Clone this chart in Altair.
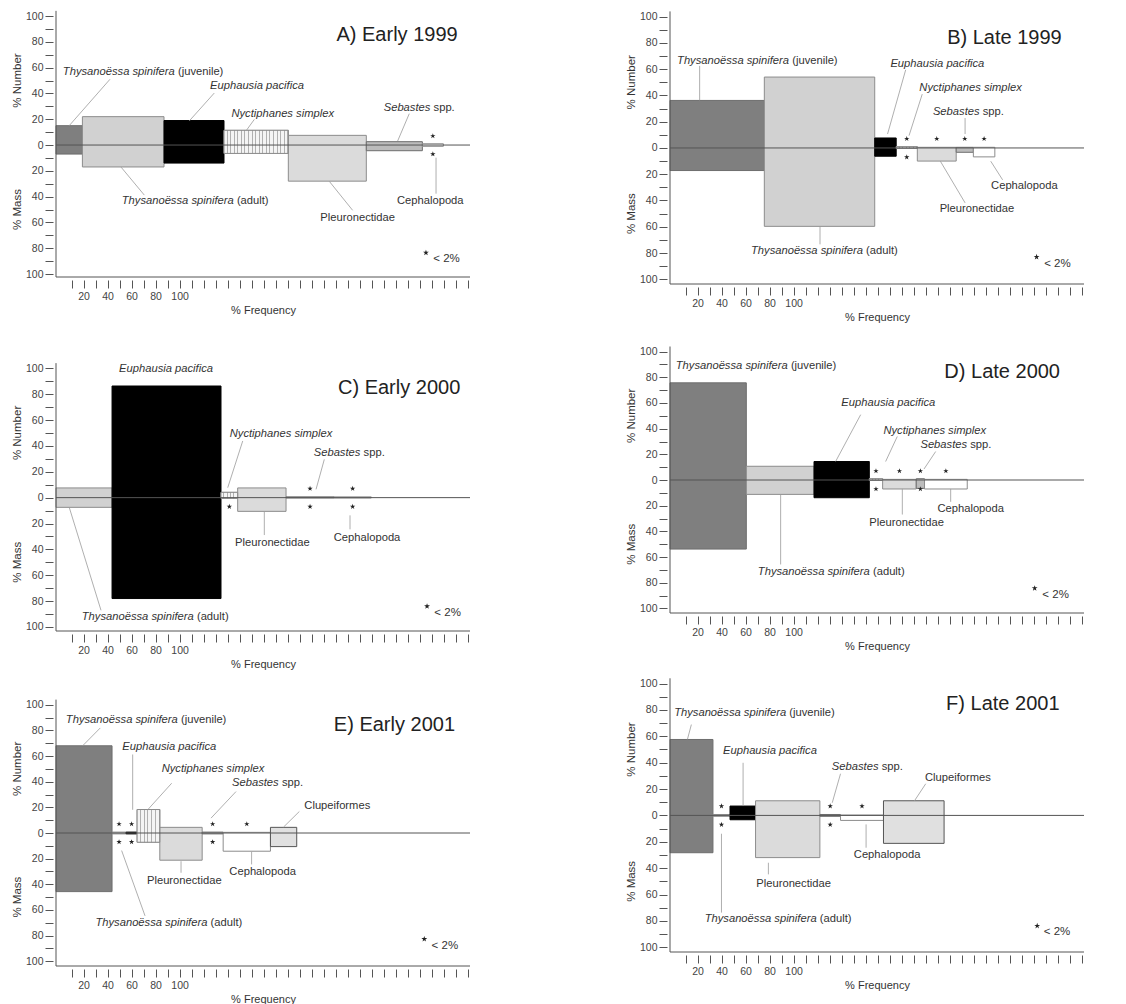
import altair as alt
import numpy as np
import pandas as pd

# ---------------- taxa & styles ----------------
TJ = "Thysanoëssa spinifera (juvenile)"
TA = "Thysanoëssa spinifera (adult)"
EP = "Euphausia pacifica"
NS = "Nyctiphanes simplex"
PL = "Pleuronectidae"
SE = "Sebastes spp."
CE = "Cephalopoda"
CL = "Clupeiformes"

TAXA = [TJ, TA, EP, NS, PL, SE, CE, CL]
FILLS = ["#7f7f7f", "#d1d1d1", "#000000", "#f2f2f2", "#dbdbdb", "#bcbcbc", "#ffffff", "#e0e0e0"]
STROKES = ["#6e6e6e", "#8c8c8c", "#000000", "#8c8c8c", "#8c8c8c", "#6e6e6e", "#8c8c8c", "#555555"]
STAR = ("M0,-1L0.2245,-0.309L0.9511,-0.309L0.3633,0.118L0.5878,0.809L0,0.382"
        "L-0.5878,0.809L-0.3633,0.118L-0.9511,-0.309L-0.2245,-0.309Z")

XMAX = 345
X_TICKS = list(range(10, 341, 10))
Y_TICKS = list(range(-100, 101, 10))

# ---------------- data ----------------
# A) Early 1999
taxa_A = [TJ, TA, EP, NS, PL, SE, CE]
freq_A = [22.0, 68.0, 50.0, 53.6, 65.0, 46.7, 17.5]
num_A = [15.0, 22.0, 19.0, 11.4, 7.5, 2.6, 1.0]
mass_A = [7.0, 17.0, 14.0, 6.5, 28.0, 4.4, 1.0]
lt2num_A = [0, 0, 0, 0, 0, 0, 1]
lt2mass_A = [0, 0, 0, 0, 0, 0, 1]

# B) Late 1999
taxa_B = [TJ, TA, EP, NS, PL, SE, CE]
freq_B = [78.6, 92.0, 17.9, 17.6, 32.4, 14.3, 17.9]
num_B = [36.2, 54.0, 7.6, 1.0, 0.5, 0.5, 0.5]
mass_B = [17.2, 59.7, 6.3, 0.3, 10.0, 3.3, 6.8]
lt2num_B = [0, 0, 0, 1, 1, 1, 1]
lt2mass_B = [0, 0, 0, 1, 0, 0, 0]

# C) Early 2000
taxa_C = [TA, EP, NS, PL, SE, CE]
freq_C = [46.7, 90.8, 13.9, 40.3, 40.0, 31.0]
num_C = [7.5, 86.3, 4.1, 7.5, 0.6, 0.6]
mass_C = [7.5, 78.0, 0.5, 10.6, 0.3, 0.3]
lt2num_C = [0, 0, 0, 0, 1, 1]
lt2mass_C = [0, 0, 1, 0, 1, 1]

# D) Late 2000
taxa_D = [TJ, TA, EP, NS, PL, SE, CE]
freq_D = [63.6, 56.4, 46.1, 11.1, 28.0, 6.9, 35.6]
num_D = [75.7, 10.7, 14.4, 1.0, 0.5, 1.0, 0.5]
mass_D = [53.8, 11.2, 13.8, 0.3, 7.0, 6.5, 7.0]
lt2num_D = [0, 0, 0, 1, 1, 1, 1]
lt2mass_D = [0, 0, 0, 1, 0, 1, 0]

# E) Early 2001
taxa_E = [TJ, TA, EP, NS, PL, SE, CE, CL]
freq_E = [46.7, 11.7, 9.2, 18.9, 35.3, 17.5, 39.4, 21.9]
num_E = [68.0, 0.7, 0.7, 18.3, 4.4, 0.7, 0.5, 4.4]
mass_E = [45.7, 0.7, 0.7, 7.2, 21.2, 0.7, 14.2, 10.6]
lt2num_E = [0, 1, 1, 0, 0, 1, 1, 0]
lt2mass_E = [0, 1, 1, 0, 0, 1, 0, 0]

# F) Late 2001
taxa_F = [TJ, TA, EP, PL, SE, CE, CL]
freq_F = [35.8, 14.2, 21.3, 53.6, 17.2, 35.8, 50.5]
num_F = [57.6, 0.7, 7.1, 11.1, 0.7, 0.3, 11.1]
mass_F = [28.3, 0.7, 3.3, 32.0, 0.7, 3.8, 21.2]
lt2num_F = [0, 1, 0, 0, 1, 1, 0]
lt2mass_F = [0, 1, 0, 0, 1, 0, 0]

DATA = {
    "A": (taxa_A, freq_A, num_A, mass_A, lt2num_A, lt2mass_A),
    "B": (taxa_B, freq_B, num_B, mass_B, lt2num_B, lt2mass_B),
    "C": (taxa_C, freq_C, num_C, mass_C, lt2num_C, lt2mass_C),
    "D": (taxa_D, freq_D, num_D, mass_D, lt2num_D, lt2mass_D),
    "E": (taxa_E, freq_E, num_E, mass_E, lt2num_E, lt2mass_E),
    "F": (taxa_F, freq_F, num_F, mass_F, lt2num_F, lt2mass_F),
}

# ---------------- annotations (positions in data units) ----------------
# labels: (italic part, normal part, x, y)
ANN = {
    "A": dict(
        title=("A) Early 1999", 334.7, 85.0), legend=(308.3, -83.5, 314.4, -88.6),
        labels=[("Thysanoëssa spinifera", "(juvenile)", 100.3, 56.6),
                ("Euphausia pacifica", "", 167.5, 45.7),
                ("Nyctiphanes simplex", "", 188.9, 24.3),
                ("Sebastes", "spp.", 313.3, 28.9),
                ("Thysanoëssa spinifera", "(adult)", 149.4, -43.4),
                ("", "Pleuronectidae", 251.4, -56.3),
                ("", "Cephalopoda", 311.9, -43.4)],
        leaders=[(45, 51, 11, 15), (131.9, 40.3, 111, 18.6), (165.3, 19.9, 158.3, 10.9),
                 (294.4, 24.3, 284.7, 3.1), (73.6, -38.8, 54.2, -17.1),
                 (247.2, -50.6, 227.8, -28.2), (316.7, -37.7, 316.7, -9.8)]),
    "B": dict(
        title=("B) Late 1999", 326.4, 84.0), legend=(305.5, -83.0, 311.8, -88.0),
        labels=[("Thysanoëssa spinifera", "(juvenile)", 100.5, 66.3),
                ("Euphausia pacifica", "", 222.8, 63.8),
                ("Nyctiphanes simplex", "", 250.5, 45.6),
                ("Sebastes", "spp.", 259.3, 27.6),
                ("Thysanoëssa spinifera", "(adult)", 162.1, -78.5),
                ("", "Pleuronectidae", 255.8, -46.8),
                ("", "Cephalopoda", 295.3, -28.6)],
        leaders=[(24.7, 62.5, 24.7, 36.2), (196.4, 59.5, 181.3, 10.6), (210.2, 41, 199.2, 9.4),
                 (245.9, 22.8, 245.9, 10.6), (125, -73.4, 125, -59.7),
                 (245.9, -41.8, 225.3, -10.1), (277.2, -24.3, 267.3, -10.1)]),
    "C": dict(
        title=("C) Early 2000", 336.9, 84.5), legend=(309.2, -84.0, 315.3, -89.0),
        labels=[("Euphausia pacifica", "", 91.7, 99.2),
                ("Nyctiphanes simplex", "", 187.5, 49.5),
                ("Sebastes", "spp.", 255.0, 34.8),
                ("Thysanoëssa spinifera", "(adult)", 116.1, -92.3),
                ("", "Pleuronectidae", 180.3, -34.8),
                ("", "Cephalopoda", 259.2, -31.4)],
        leaders=[(155.6, 43.8, 143.1, 7.7), (223.6, 29.6, 216.7, 6.4), (37.5, -87.1, 11.1, -7.7),
                 (173.6, -28.9, 173.6, -10.6), (245, -24.5, 245, -13.7)]),
    "D": dict(
        title=("D) Late 2000", 325.0, 84.3), legend=(303.9, -84.3, 310.3, -89.6),
        labels=[("Thysanoëssa spinifera", "(juvenile)", 99.4, 88.8),
                ("Euphausia pacifica", "", 181.9, 60.0),
                ("Nyctiphanes simplex", "", 220.6, 38.4),
                ("Sebastes", "spp.", 248.9, 27.4),
                ("Thysanoëssa spinifera", "(adult)", 167.8, -71.3),
                ("", "Pleuronectidae", 197.2, -33.2),
                ("", "Cephalopoda", 250.6, -22.2)],
        leaders=[(158.9, 50.9, 138, 14.4), (189.4, 33.9, 179.7, 14.4), (221.4, 22.2, 211.7, 8.6),
                 (92.2, -65.8, 92.2, -11.2), (193.6, -26.9, 193.6, -7), (233.9, -17, 233.9, -7)]),
    "E": dict(
        title=("E) Early 2001", 332.5, 84.5), legend=(306.9, -82.7, 313.0, -87.9),
        labels=[("Thysanoëssa spinifera", "(juvenile)", 102.8, 88.4),
                ("Euphausia pacifica", "", 94.4, 67.2),
                ("Nyctiphanes simplex", "", 130.8, 49.6),
                ("Sebastes", "spp.", 186.9, 38.8),
                ("", "Clupeiformes", 234.4, 21.2),
                ("Thysanoëssa spinifera", "(adult)", 127.5, -69.8),
                ("", "Pleuronectidae", 106.9, -37.5),
                ("", "Cephalopoda", 172.2, -30.2)],
        leaders=[(36.9, 81.9, 22.2, 68), (63.9, 61.2, 63.9, 18.1), (96.4, 38.8, 76.4, 18.1),
                 (150, 32.3, 129.2, 11.6), (202.8, 16.8, 189.7, 4.7), (74.2, -64.6, 54.7, -13.7),
                 (104.2, -31, 104.2, -22), (163, -24.5, 163, -14.7)]),
    "F": dict(
        title=("F) Late 2001", 324.6, 84.6), legend=(306.0, -83.8, 311.5, -88.1),
        labels=[("Thysanoëssa spinifera", "(juvenile)", 98.1, 77.8),
                ("Euphausia pacifica", "", 83.3, 49.2),
                ("Sebastes", "spp.", 175.1, 36.6),
                ("", "Clupeiformes", 239.9, 28.0),
                ("Thysanoëssa spinifera", "(adult)", 123.5, -78.8),
                ("", "Pleuronectidae", 103.0, -51.8),
                ("", "Cephalopoda", 180.9, -30.0)],
        leaders=[(17.8, 68.9, 14.5, 57.6), (60.9, 39.9, 60.9, 7.1), (142.1, 31.6, 135.2, 9.6),
                 (213.1, 24, 203.6, 10.9), (42.9, -73.7, 42.9, -13.9), (82, -44.7, 82, -35.9),
                 (163.4, -24.5, 163.4, -6.8)]),
}

# panel sizes (plot height in px, y domain)
LAYOUT = {
    "A": dict(height=266, ydom=[-102.3, 103.9]),
    "C": dict(height=286, ydom=[-103.1, 118.0]),
    "E": dict(height=266, ydom=[-103.7, 103.7]),
    "B": dict(height=273, ydom=[-103.6, 104.3]),
    "D": dict(height=267, ydom=[-103.6, 104.4]),
    "F": dict(height=277, ydom=[-103.6, 106.5]),
}
PLOT_W = 414
FONT = "Liberation Sans"
TXT = "#333333"
LABEL_SIZE = 11.2


def make_panel(key):
    taxa, freq, num, mass, sn, sm = DATA[key]
    ann = ANN[key]
    lay = LAYOUT[key]
    freq = np.array(freq, dtype=float)
    x1 = np.cumsum(freq)
    x0 = x1 - freq
    bars = pd.DataFrame({"taxon": taxa, "x0": x0, "x1": x1,
                         "top": np.array(num, float), "bot": -np.array(mass, float)})
    xs = alt.Scale(domain=[0, XMAX], nice=False, zero=False)
    ys = alt.Scale(domain=lay["ydom"], nice=False, zero=False)

    xaxis = alt.Axis(values=X_TICKS, title="% Frequency", tickSize=8, offset=3, domain=False,
                     grid=False, tickOffset=3.6, labelPadding=3, titlePadding=3,
                     labelExpr="datum.value <= 100 && datum.value % 20 == 0 ? datum.label : ''",
                     labelOverlap=False, labelFlush=False)
    yaxis = alt.Axis(values=Y_TICKS, title=None, tickSize=8, offset=3, domain=False, grid=False,
                     labelPadding=2, labelOverlap=False, labelFlush=False,
                     labelExpr="datum.value % 20 == 0 ? '' + abs(datum.value) : ''")

    def X(f):
        return alt.X(f, scale=xs, axis=xaxis)

    def Y(f):
        return alt.Y(f, scale=ys, axis=yaxis)

    rect = alt.Chart(bars).mark_rect(strokeWidth=1).encode(
        x=X("x0:Q"), x2="x1",
        y=Y("top:Q"), y2="bot",
        fill=alt.Fill("taxon:N", scale=alt.Scale(domain=TAXA, range=FILLS), legend=None),
        stroke=alt.Stroke("taxon:N", scale=alt.Scale(domain=TAXA, range=STROKES), legend=None),
    )
    layers = [rect]

    # vertical stripes for Nyctiphanes simplex
    ns = bars[bars.taxon == NS]
    if len(ns):
        wpx = float((ns.x1 - ns.x0).iloc[0]) * PLOT_W / XMAX
        n = max(3, int(round(wpx / 3.6)))
        stops = []
        for i in range(n):
            stops += [alt.GradientStop(offset=i / n, color="#f4f4f4"),
                      alt.GradientStop(offset=(i + 0.72) / n, color="#f4f4f4"),
                      alt.GradientStop(offset=(i + 0.72) / n, color="#b0b0b0"),
                      alt.GradientStop(offset=(i + 1) / n, color="#b0b0b0")]
        grad = alt.LinearGradient(gradient="linear", stops=stops, x1=0, x2=1, y1=0, y2=0)
        layers.append(alt.Chart(ns).mark_rect(fill=grad, stroke="#8c8c8c", strokeWidth=1).encode(
            x=X("x0:Q"), x2="x1", y=Y("top:Q"), y2="bot"))

    # zero line
    zero = pd.DataFrame({"x": [0.0], "x2": [float(XMAX)], "y": [0.0]})
    layers.append(alt.Chart(zero).mark_rule(color="#555555", strokeWidth=1).encode(
        x=X("x:Q"), x2="x2", y=Y("y:Q")))

    # axis lines
    lo = lay["ydom"][0]
    ax = pd.DataFrame({"x": [0.0, 0.0], "x2": [0.0, float(XMAX)],
                       "y": [lo, lo], "y2": [104.0, lo]})
    layers.append(alt.Chart(ax).mark_rule(color="#555555", strokeWidth=1).encode(
        x=X("x:Q"), x2="x2", y=Y("y:Q"), y2="y2"))

    # leader lines
    ld = pd.DataFrame(ann["leaders"], columns=["x", "y", "x2", "y2"]).astype(float)
    layers.append(alt.Chart(ld).mark_rule(color="#9a9a9a", strokeWidth=0.8).encode(
        x=X("x:Q"), x2="x2", y=Y("y:Q"), y2="y2"))

    # "< 2%" stars
    xc = (x0 + x1) / 2
    sx = [float(xc[i]) for i in range(len(taxa)) if sn[i]] + \
         [float(xc[i]) for i in range(len(taxa)) if sm[i]]
    sy = [7.0] * int(sum(sn)) + [-7.0] * int(sum(sm))
    st = pd.DataFrame({"x": sx, "y": sy})
    layers.append(alt.Chart(st).mark_point(shape=STAR, filled=True, size=32, color="#222222",
                                           opacity=1).encode(x=X("x:Q"), y=Y("y:Q")))

    # labels
    rows = []
    for ital, norm, lx, ly in ann["labels"]:
        if ital and norm:
            rows.append(("ir", ital, lx, ly))
            rows.append(("nl", norm, lx, ly))
        elif ital:
            rows.append(("ic", ital, lx, ly))
        else:
            rows.append(("nc", norm, lx, ly))
    lab = pd.DataFrame(rows, columns=["kind", "text", "x", "y"])
    styles = {"ir": dict(fontStyle="italic", align="right", dx=-1.6),
              "nl": dict(align="left", dx=1.6),
              "ic": dict(fontStyle="italic", align="center"),
              "nc": dict(align="center")}
    for k, s in styles.items():
        sub = lab[lab.kind == k]
        if len(sub):
            layers.append(alt.Chart(sub).mark_text(font=FONT, fontSize=LABEL_SIZE, color=TXT,
                                                   baseline="middle", **s).encode(
                x=X("x:Q"), y=Y("y:Q"), text="text:N"))

    # panel title
    tt = pd.DataFrame({"text": [ann["title"][0]], "x": [ann["title"][1]], "y": [ann["title"][2]]})
    layers.append(alt.Chart(tt).mark_text(font=FONT, fontSize=20, color="#222222", align="right",
                                          baseline="middle").encode(
        x=X("x:Q"), y=Y("y:Q"), text="text:N"))

    # legend "* < 2%"
    lg = ann["legend"]
    lgs = pd.DataFrame({"x": [lg[0]], "y": [lg[1]]})
    layers.append(alt.Chart(lgs).mark_point(shape=STAR, filled=True, size=38, color="#222222",
                                            opacity=1).encode(x=X("x:Q"), y=Y("y:Q")))
    lgt = pd.DataFrame({"text": ["< 2%"], "x": [lg[2]], "y": [lg[3]]})
    layers.append(alt.Chart(lgt).mark_text(font=FONT, fontSize=11.5, color=TXT, align="left",
                                           baseline="middle").encode(
        x=X("x:Q"), y=Y("y:Q"), text="text:N"))

    # side titles
    sd = pd.DataFrame({"text": ["% Number", "% Mass"], "y": [50.0, -50.0]})
    layers.append(alt.Chart(sd).mark_text(font=FONT, fontSize=11.5, color=TXT, angle=270,
                                          align="center", baseline="middle").encode(
        x=alt.value(-38), y=Y("y:Q"), text="text:N"))

    return alt.layer(*layers).properties(width=PLOT_W, height=lay["height"])


left = alt.vconcat(make_panel("A"), make_panel("C"), make_panel("E"), spacing=29)
right = alt.vconcat(make_panel("B"), make_panel("D"), make_panel("F"), spacing=23)

chart = alt.hconcat(left, right, spacing=154).properties(
    padding={"left": 3, "top": 2, "right": 5, "bottom": 0}
).configure_view(stroke=None).configure_axis(
    labelFont=FONT, labelFontSize=10.5, labelColor="#444444", tickColor="#555555",
    titleFont=FONT, titleFontSize=11, titleFontWeight="normal", titleColor=TXT
)

chart.save("out.html", embed_options={"renderer": "svg", "actions": False})
